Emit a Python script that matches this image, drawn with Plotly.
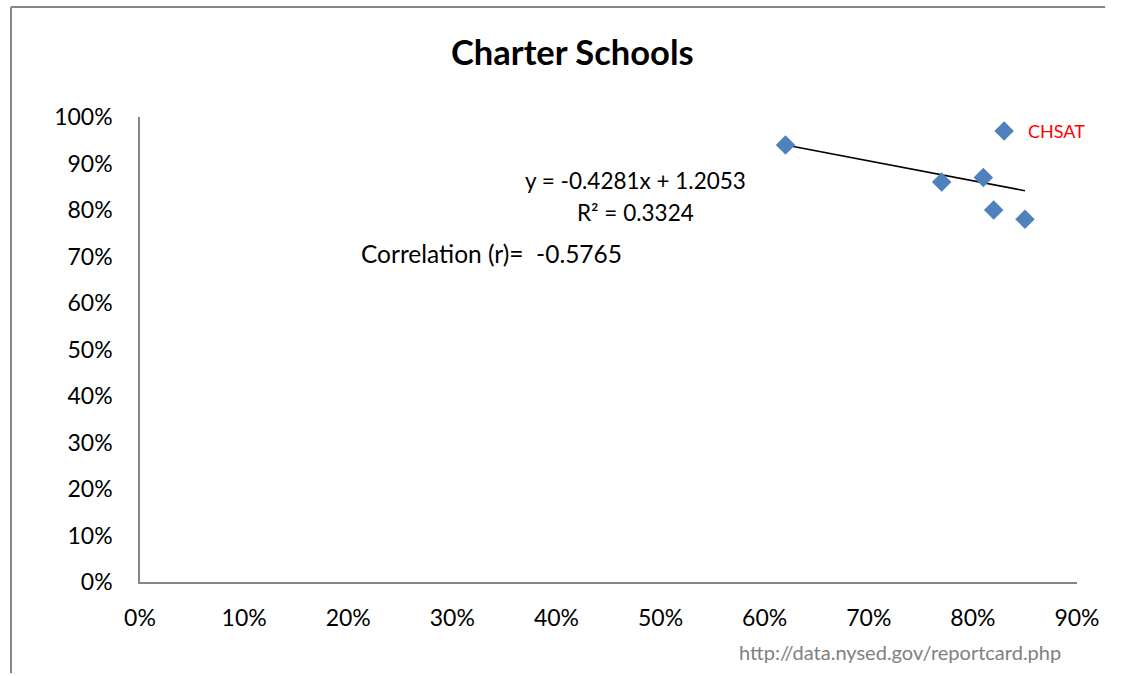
import plotly.graph_objects as go

# Data (fractions)
labels = ["", "", "", "", "", "CHSAT"]
x_vals = [0.62, 0.77, 0.81, 0.82, 0.85, 0.83]
y_vals = [0.94, 0.86, 0.87, 0.80, 0.78, 0.97]
x_ticks = [0.0, 0.1, 0.2, 0.3, 0.4, 0.5, 0.6, 0.7, 0.8, 0.9]
y_ticks = [0.0, 0.1, 0.2, 0.3, 0.4, 0.5, 0.6, 0.7, 0.8, 0.9, 1.0]

# Trendline statistics as printed on the chart
trend_slope = -0.4281
trend_intercept = 1.2053
trend_r2 = 0.3324
corr_r = -0.5765

tx = [min(x_vals), max(x_vals)]
ty = [trend_slope * v + trend_intercept for v in tx]

FONT = "Lato"
AX = "#868686"

fig = go.Figure()
fig.add_trace(go.Scatter(x=tx, y=ty, mode="lines",
                         line=dict(color="black", width=1.6),
                         hoverinfo="skip", showlegend=False))
fig.add_trace(go.Scatter(x=x_vals, y=y_vals, mode="markers",
                         marker=dict(symbol="diamond", size=15, color="#4F81BD",
                                     line=dict(width=0)),
                         showlegend=False))

def A(text, x, y, size, color="black", xref="x", yref="y", **kw):
    d = dict(text=text, xref=xref, yref=yref, x=x, y=y, showarrow=False,
             xanchor="center", yanchor="middle",
             font=dict(family=FONT, size=size, color=color))
    d.update(kw)
    return d

ann = []
ann.append(A("<b>Charter Schools</b>", 0.462, 1.14, 34.5, xref="paper", yref="paper"))
ann.append(A(f"y = {trend_slope:.4f}x + {trend_intercept:.4f}", 0.4755, 0.8645, 22.5))
ann.append(A(f"R² = {trend_r2:.4f}", 0.4764, 0.7957, 22.5))
ann.append(A(f"Correlation (r)=&nbsp;&nbsp;{corr_r:.4f}", 0.338, 0.7075, 24.5))
for lx, ly, lab in zip(x_vals, y_vals, labels):
    if lab:
        ann.append(A(lab, lx, ly, 18, color="#FF0000", xanchor="left", xshift=22))
ann.append(A("http://data.nysed.gov/reportcard.php", 0.811, -0.1505, 20,
             color="#808080", xref="paper", yref="paper"))

fig.update_layout(
    width=1125, height=676,
    margin=dict(l=140, r=48, t=117, b=94),
    paper_bgcolor="white", plot_bgcolor="white",
    annotations=ann,
    shapes=[
        dict(type="line", xref="paper", yref="paper", x0=-0.1377, x1=1.03,
             y0=1.2366, y1=1.2366, line=dict(color=AX, width=2), layer="below"),
        dict(type="line", xref="paper", yref="paper", x0=-0.1377, x1=-0.1377,
             y0=-0.196, y1=1.2366, line=dict(color=AX, width=2), layer="below"),
    ],
    xaxis=dict(range=[0, 0.9], tickvals=x_ticks, tickformat=".0%",
               showgrid=False, zeroline=False, showline=True, linecolor=AX, linewidth=1.5,
               ticks="outside", ticklen=15, tickcolor="rgba(0,0,0,0)",
               tickfont=dict(family=FONT, size=23, color="black")),
    yaxis=dict(range=[0, 1.0], tickvals=y_ticks, tickformat=".0%",
               showgrid=False, zeroline=False, showline=True, linecolor=AX, linewidth=1.5,
               ticks="outside", ticklen=21, tickcolor="rgba(0,0,0,0)",
               tickfont=dict(family=FONT, size=23, color="black")),
)

fig.write_html("out.html", config={"displayModeBar": False})
